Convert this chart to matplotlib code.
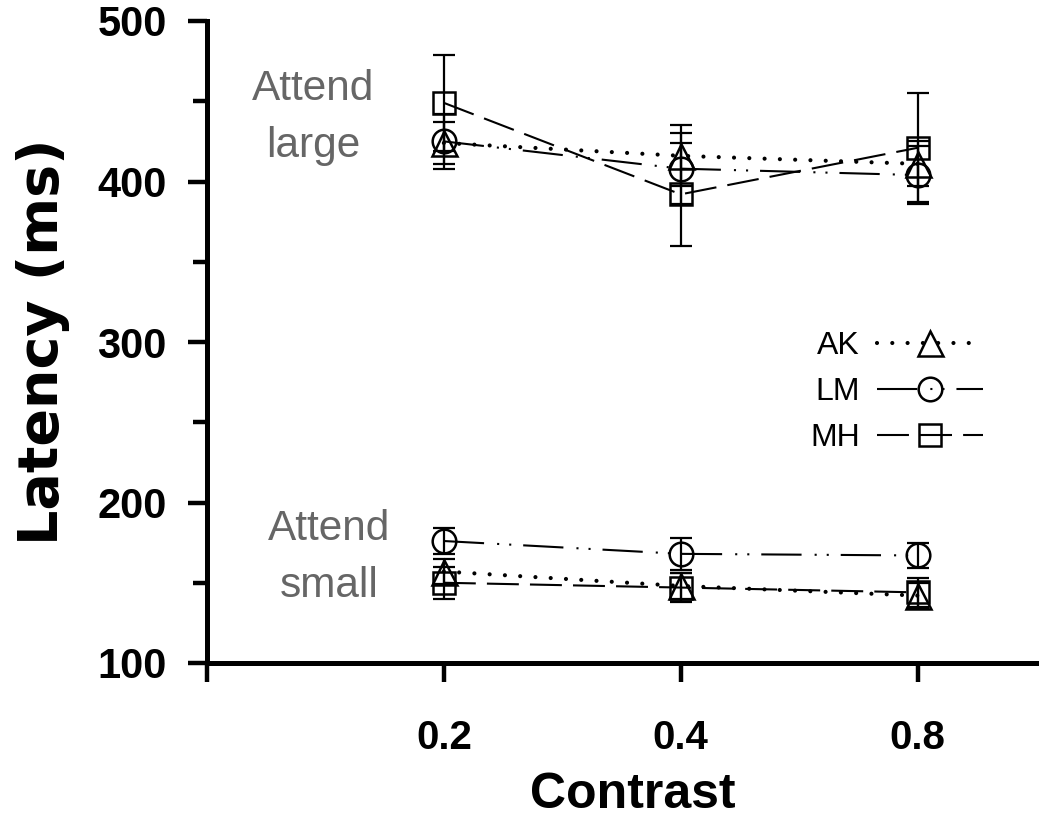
import matplotlib
matplotlib.use('Agg')
import matplotlib.pyplot as plt
from matplotlib.lines import Line2D
from matplotlib.ticker import MultipleLocator
import numpy as np

# ---- data ----
contrast_labels = ['0.2', '0.4', '0.8']
subjects = ['AK', 'LM', 'MH']

ak_large = [424, 416, 411]
ak_large_err = [13, 19, 14]
lm_large = [425, 408, 404]
lm_large_err = [17, 22, 18]
mh_large = [449, 392, 421]
mh_large_err = [30, 32, 34]

ak_small = [157, 148, 142]
ak_small_err = [8, 8, 8]
lm_small = [176, 168, 167]
lm_small_err = [8, 10, 8]
mh_small = [150, 147, 144]
mh_small_err = [10, 9, 9]

y_ticks = [100, 200, 300, 400, 500]

plt.rcParams['font.family'] = ['Liberation Sans', 'DejaVu Sans']
plt.rcParams['lines.scale_dashes'] = False

fig = plt.figure(figsize=(10.5, 8.24), dpi=100)
W, H = 1050, 824
ax = fig.add_axes([207 / W, 1 - 663 / H, (1036 - 207) / W, (663 - 21) / H])

x = np.arange(1, len(contrast_labels) + 1)

styles = {
    'AK': dict(marker='^', dashes=(0.01, 11.0), lw=3.0, dash_capstyle='round'),
    'LM': dict(marker='o', dashes=(29, 9.4, 1.5, 7.2, 1.5, 8.6), lw=1.5, dash_capstyle='butt'),
    'MH': dict(marker='s', dashes=(23, 8), lw=1.5, dash_capstyle='butt'),
}
msizes = {'AK': 18, 'LM': 17, 'MH': 16}

series = {
    'AK': [(ak_large, ak_large_err), (ak_small, ak_small_err)],
    'LM': [(lm_large, lm_large_err), (lm_small, lm_small_err)],
    'MH': [(mh_large, mh_large_err), (mh_small, mh_small_err)],
}

for subj in subjects:
    st = styles[subj]
    for vals, errs in series[subj]:
        ax.errorbar(x, vals, yerr=errs, fmt='none', ecolor='black',
                    elinewidth=1.6, capsize=8, capthick=1.6, zorder=2)
        ax.plot(x, vals, color='black', lw=st['lw'], dashes=st['dashes'],
                dash_capstyle=st['dash_capstyle'], zorder=3)
        ax.plot(x, vals, linestyle='none', marker=st['marker'],
                ms=msizes[subj], mfc='none', mec='black', mew=1.8, zorder=4)

ax.set_xlim(0, 3.5)
ax.set_ylim(100, 500)

for s in ['top', 'right']:
    ax.spines[s].set_visible(False)
for s in ['left', 'bottom']:
    ax.spines[s].set_linewidth(3.6)

ax.set_xticks(np.arange(0, len(contrast_labels) + 1))
ax.set_xticklabels([''] + contrast_labels)
ax.set_yticks(y_ticks)
ax.set_yticklabels([str(v) for v in y_ticks])
ax.yaxis.set_minor_locator(MultipleLocator(50))

ax.tick_params(axis='x', which='major', length=14, width=3.2, pad=26, labelsize=29)
ax.tick_params(axis='y', which='major', length=14, width=3.2, pad=15, labelsize=30)
ax.tick_params(axis='y', which='minor', length=10, width=3.2)
for lbl in ax.get_xticklabels() + ax.get_yticklabels():
    lbl.set_fontweight('bold')

ax.set_xlabel('Contrast', fontsize=36, fontweight='bold')
ax.xaxis.set_label_coords((633 - 207) / 829, -0.17)
ax.set_ylabel('Latency (ms)', fontsize=40, fontweight='bold', family=['DejaVu Sans'])
ax.yaxis.set_label_coords((70 - 207) / 829, 0.5)

ax.text(0.45, 440.0, 'Attend\nlarge', ha='center', va='center', fontsize=30.5,
        color='#666666', linespacing=1.55)
ax.text(0.515, 166.0, 'Attend\nsmall', ha='center', va='center', fontsize=30.5,
        color='#666666', linespacing=1.55)

handles = []
for subj in subjects:
    st = styles[subj]
    handles.append(Line2D([], [], color='black', lw=st['lw'], dashes=st['dashes'],
                          dash_capstyle=st['dash_capstyle'], marker=st['marker'],
                          ms=msizes[subj], mfc='none', mec='black', mew=1.8))
ax.legend(handles, subjects, loc='upper left', bbox_to_anchor=((810 - 207) / 829, (663 - 331) / 642),
          frameon=False, markerfirst=False, handlelength=3.3, handletextpad=0.55,
          labelspacing=0.5, fontsize=23, borderaxespad=0, borderpad=0, numpoints=1)

fig.savefig('out.png', dpi=100)
